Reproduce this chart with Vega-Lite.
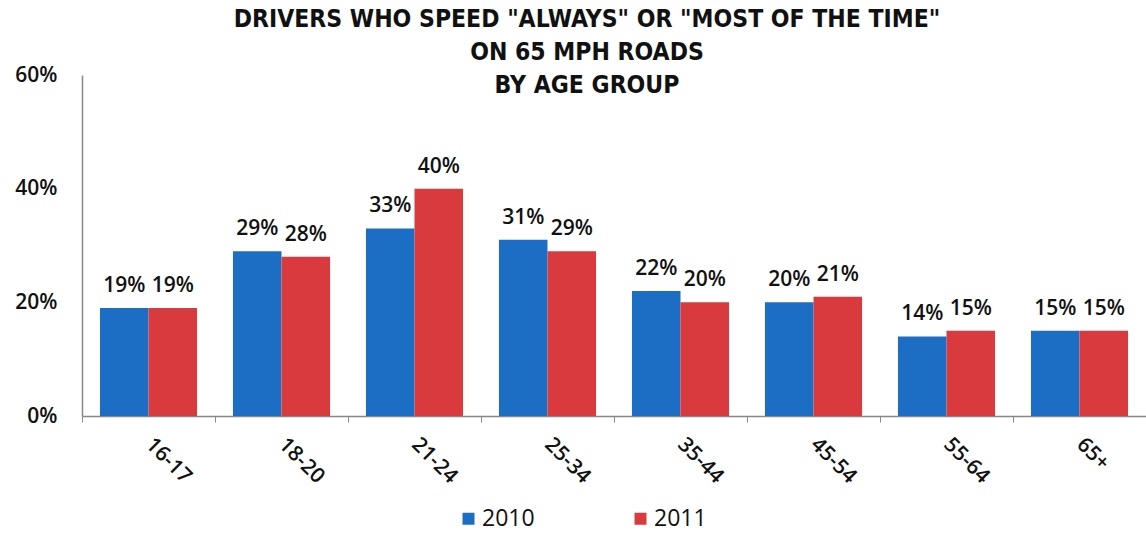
{
  "$schema": "https://vega.github.io/schema/vega-lite/v6.json",
  "width": 1064,
  "height": 341,
  "autosize": {"type": "none"},
  "padding": {"left": 82, "top": 75, "right": 0, "bottom": 117},
  "background": "white",
  "title": {
    "text": ["DRIVERS WHO SPEED \"ALWAYS\" OR \"MOST OF THE TIME\"", "ON 65 MPH ROADS", "BY AGE GROUP"],
    "font": "DejaVu Sans Condensed",
    "fontSize": 24.5,
    "fontWeight": "bold",
    "color": "#111",
    "lineHeight": 33,
    "anchor": "middle",
    "dx": -27,
    "offset": -34
  },
  "data": {
    "values": [
      {"age": "16-17", "year": "2010", "pct": 0.19},
      {"age": "16-17", "year": "2011", "pct": 0.19},
      {"age": "18-20", "year": "2010", "pct": 0.29},
      {"age": "18-20", "year": "2011", "pct": 0.28},
      {"age": "21-24", "year": "2010", "pct": 0.33},
      {"age": "21-24", "year": "2011", "pct": 0.40},
      {"age": "25-34", "year": "2010", "pct": 0.31},
      {"age": "25-34", "year": "2011", "pct": 0.29},
      {"age": "35-44", "year": "2010", "pct": 0.22},
      {"age": "35-44", "year": "2011", "pct": 0.20},
      {"age": "45-54", "year": "2010", "pct": 0.20},
      {"age": "45-54", "year": "2011", "pct": 0.21},
      {"age": "55-64", "year": "2010", "pct": 0.14},
      {"age": "55-64", "year": "2011", "pct": 0.15},
      {"age": "65+", "year": "2010", "pct": 0.15},
      {"age": "65+", "year": "2011", "pct": 0.15}
    ]
  },
  "encoding": {
    "x": {
      "field": "age",
      "type": "nominal",
      "sort": null,
      "scale": {"paddingInner": 0, "paddingOuter": 0},
      "axis": {
        "title": null,
        "labelAngle": 45,
        "labelAlign": "left",
        "labelBaseline": "middle",
        "labelFont": "Open Sans",
        "labelFontWeight": 600,
        "labelFontSize": 21,
        "labelColor": "#111",
        "labelPadding": 19,
        "tickBand": "extent",
        "tickSize": 6,
        "tickColor": "#888",
        "domainColor": "#888",
        "domainWidth": 1.5
      }
    },
    "xOffset": {"field": "year", "type": "nominal", "scale": {"paddingInner": 0, "paddingOuter": 0.37}}
  },
  "layer": [
    {
      "mark": {"type": "bar"},
      "encoding": {
        "y": {
          "field": "pct",
          "type": "quantitative",
          "scale": {"domain": [0, 0.6]},
          "axis": {
            "title": null,
            "values": [0, 0.2, 0.4, 0.6],
            "format": ".0%",
            "grid": false,
            "labelFont": "Open Sans",
            "labelFontWeight": 600,
            "labelFontSize": 21,
            "labelColor": "#111",
            "labelPadding": 25,
            "ticks": false,
            "domainColor": "#888",
            "domainWidth": 1.5
          }
        },
        "color": {
          "field": "year",
          "type": "nominal",
          "scale": {"domain": ["2010", "2011"], "range": ["#1b6ec4", "#d83a3e"]},
          "legend": {
            "title": null,
            "orient": "none",
            "direction": "horizontal",
            "legendX": 375,
            "legendY": 432,
            "symbolType": "square",
            "symbolSize": 144,
            "symbolStrokeWidth": 0,
            "labelFont": "Open Sans",
            "labelFontSize": 23,
            "labelColor": "#111",
            "labelOffset": 2,
            "columnPadding": 94,
            "padding": 0
          }
        }
      }
    },
    {
      "mark": {"type": "text", "baseline": "bottom", "dy": -12, "font": "Open Sans", "fontWeight": 600, "fontSize": 21, "color": "#111"},
      "encoding": {
        "y": {"field": "pct", "type": "quantitative"},
        "text": {"field": "pct", "type": "quantitative", "format": ".0%"}
      }
    }
  ],
  "config": {"view": {"stroke": null}}
}
